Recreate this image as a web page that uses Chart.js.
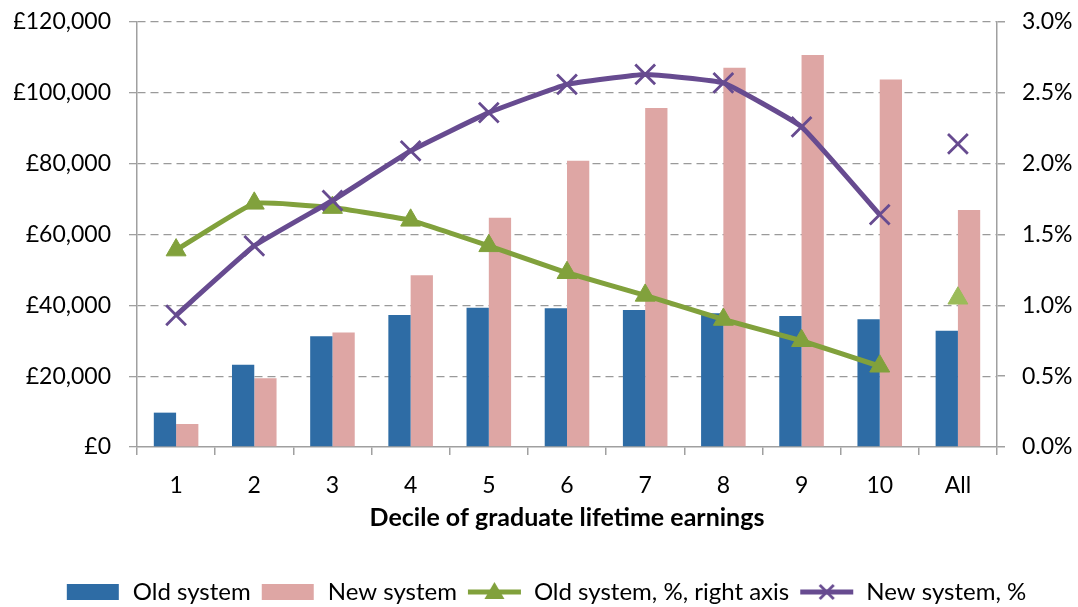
<!DOCTYPE html>
<html>
<head>
<meta charset="utf-8">
<script src="https://cdn.jsdelivr.net/npm/chart.js@4.4.1/dist/chart.umd.min.js"></script>
<style>
  body { margin: 0; background: #fff; }
  #wrap { width: 1078px; height: 607px; }
</style>
</head>
<body>
<div id="wrap"><canvas id="myChart"></canvas></div>
<script>
// values
const deciles = ["1", "2", "3", "4", "5", "6", "7", "8", "9", "10", "All"];
const oldSystem = [9700, 23200, 31300, 37300, 39300, 39200, 38700, 37800, 37000, 36100, 32800];
const newSystem = [6500, 19400, 32300, 48500, 64700, 80800, 95700, 107100, 110700, 103800, 66900];
// % series, deciles 1-10 only (the "All" point stands alone)
const oldPct = [1.39, 1.72, 1.69, 1.60, 1.42, 1.23, 1.07, 0.90, 0.75, 0.57];
const newPct = [0.93, 1.42, 1.74, 2.09, 2.36, 2.56, 2.63, 2.57, 2.26, 1.64];
const oldPctAll = 1.05;
const newPctAll = 2.14;

const BLUE = "#2e6ca5";
const PINK = "#dea6a4";
const GREEN = "#81a13c";
const LIGHT_GREEN = "#9bbb59";
const PURPLE = "#674b90";
const AXIS = "#a0a0a0";
const FONT = "Lato, 'Open Sans', sans-serif";

const onlyAll = (v) => deciles.map((d) => (d === "All" ? v : null));

// little canvases used as legend symbols (box, line + marker)
function legendIcon(kind, color) {
  const c = document.createElement("canvas");
  c.width = 55;
  c.height = 24;
  const g = c.getContext("2d");
  if (kind === "bar") {
    g.fillStyle = color;
    g.fillRect(1, 4, 52, 16);
    return c;
  }
  g.strokeStyle = color;
  g.lineWidth = 5;
  g.beginPath();
  g.moveTo(1, 12);
  g.lineTo(54, 12);
  g.stroke();
  if (kind === "triangle") {
    g.fillStyle = color;
    g.beginPath();
    g.moveTo(27.5, 2);
    g.lineTo(37.5, 19);
    g.lineTo(17.5, 19);
    g.closePath();
    g.fill();
  } else {
    g.lineWidth = 2.8;
    g.beginPath();
    g.moveTo(20.5, 5);
    g.lineTo(34.5, 19);
    g.moveTo(34.5, 5);
    g.lineTo(20.5, 19);
    g.stroke();
  }
  return c;
}

// keep the plot area where the picture has it
const fixVertical = (w) => (s) => {
  s.width = w;
  s.paddingTop = 0;
  s.paddingBottom = 0;
};

const ctx = document.getElementById("myChart").getContext("2d");
new Chart(ctx, {
  type: "bar",
  data: {
    labels: deciles,
    datasets: [
      {
        label: "New system, %",
        type: "line",
        data: newPct.concat([null]),
        yAxisID: "y1",
        borderColor: PURPLE,
        borderWidth: 5,
        tension: 0.1,
        pointStyle: "crossRot",
        pointRadius: 14,
        pointBorderWidth: 2.8,
        pointBorderColor: PURPLE,
        order: 0,
      },
      {
        label: "new-all",
        type: "line",
        data: onlyAll(newPctAll),
        yAxisID: "y1",
        showLine: false,
        pointStyle: "crossRot",
        pointRadius: 14,
        pointBorderWidth: 2.8,
        pointBorderColor: PURPLE,
        order: 0,
      },
      {
        label: "Old system, %, right axis",
        type: "line",
        data: oldPct.concat([null]),
        yAxisID: "y1",
        borderColor: GREEN,
        borderWidth: 5,
        tension: 0.1,
        pointStyle: "triangle",
        pointRadius: 11.5,
        pointBackgroundColor: GREEN,
        pointBorderColor: GREEN,
        pointBorderWidth: 1,
        order: 1,
      },
      {
        label: "old-all",
        type: "line",
        data: onlyAll(oldPctAll),
        yAxisID: "y1",
        showLine: false,
        pointStyle: "triangle",
        pointRadius: 11.5,
        pointBackgroundColor: LIGHT_GREEN,
        pointBorderColor: LIGHT_GREEN,
        pointBorderWidth: 1,
        order: 1,
      },
      {
        label: "Old system",
        data: oldSystem,
        backgroundColor: BLUE,
        categoryPercentage: 0.57,
        barPercentage: 1.0,
        order: 2,
      },
      {
        label: "New system",
        data: newSystem,
        backgroundColor: PINK,
        categoryPercentage: 0.57,
        barPercentage: 1.0,
        order: 2,
      },
    ],
  },
  options: {
    responsive: true,
    maintainAspectRatio: false,
    animation: false,
    layout: { padding: { top: 22, bottom: -7, left: 14, right: 0 } },
    plugins: {
      tooltip: { enabled: false },
      legend: {
        position: "bottom",
        labels: {
          usePointStyle: true,
          pointStyleWidth: 55,
          padding: 10,
          color: "#000",
          font: { family: FONT, size: 24 },
          generateLabels: () => [
            { text: "Old system", pointStyle: legendIcon("bar", BLUE), lineWidth: 0, hidden: false },
            { text: "New system", pointStyle: legendIcon("bar", PINK), lineWidth: 0, hidden: false },
            { text: "Old system, %, right axis", pointStyle: legendIcon("triangle", GREEN), lineWidth: 0, hidden: false },
            { text: "New system, %", pointStyle: legendIcon("cross", PURPLE), lineWidth: 0, hidden: false },
          ],
        },
      },
    },
    scales: {
      x: {
        offset: true,
        grid: { offset: true, drawOnChartArea: false, tickLength: 8, color: AXIS, lineWidth: 1.5 },
        border: { color: AXIS, width: 1.5 },
        ticks: { color: "#000", padding: 17, font: { family: FONT, size: 23 } },
        title: {
          display: true,
          text: "Decile of graduate lifetime earnings",
          color: "#000",
          font: { family: FONT, size: 25, weight: "bold" },
          padding: { top: 0, bottom: 37 },
        },
        afterFit: (s) => {
          s.height = 614 - s.chart.legend.height - 447;
        },
      },
      y: {
        position: "left",
        min: 0,
        max: 120000,
        ticks: {
          stepSize: 20000,
          color: "#000",
          padding: 18,
          font: { family: FONT, size: 23 },
          callback: (v) => "£" + v.toLocaleString("en-GB"),
        },
        grid: {
          color: (c) => (c.tick && c.tick.value === 0 ? "rgba(0,0,0,0)" : "#9a9a9a"),
          tickColor: AXIS,
          lineWidth: 1.3,
          tickLength: 8,
        },
        border: { color: AXIS, width: 1.5, dash: [8, 5] },
        afterFit: fixVertical(123),
      },
      y1: {
        position: "right",
        min: 0,
        max: 3,
        ticks: {
          stepSize: 0.5,
          color: "#000",
          padding: 17,
          font: { family: FONT, size: 23 },
          callback: (v) => v.toFixed(1) + "%",
        },
        grid: { drawOnChartArea: false, color: AXIS, lineWidth: 1.5, tickLength: 8 },
        border: { color: AXIS, width: 1.5 },
        afterFit: fixVertical(81),
      },
    },
  },
});
</script>
</body>
</html>
